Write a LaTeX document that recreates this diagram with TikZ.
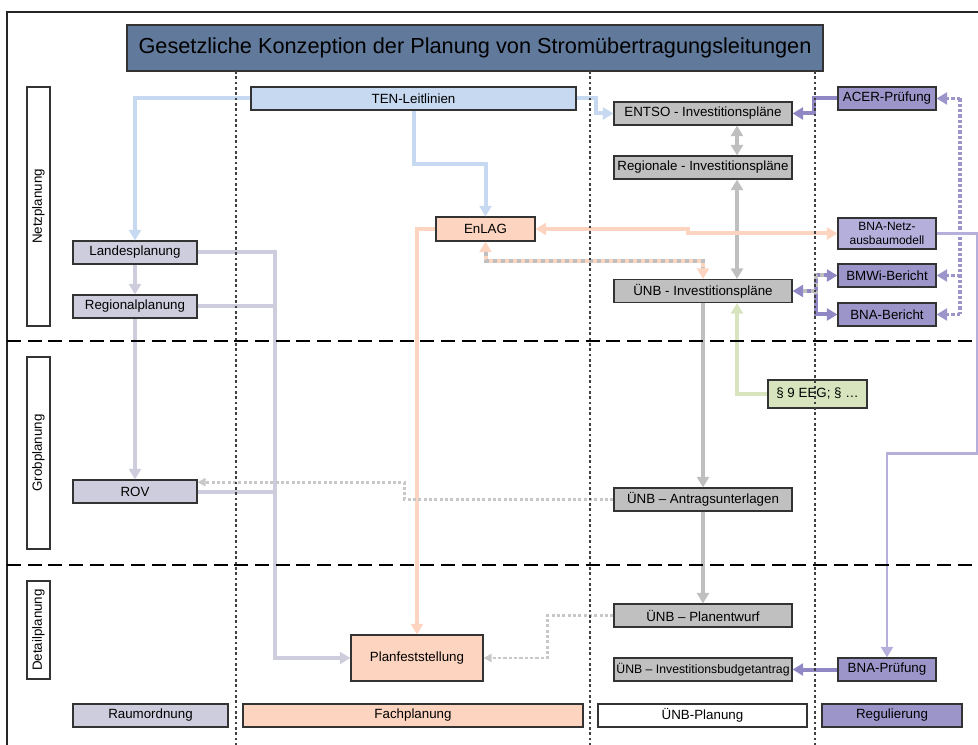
\documentclass[tikz,border=0pt]{standalone}
\usepackage{fontspec}
\setmainfont{Liberation Sans}
\usetikzlibrary{arrows.meta, positioning, calc}
\definecolor{titleblue}{HTML}{61799B}
\definecolor{tenblue}{HTML}{C6D9F0}
\definecolor{lav}{HTML}{CDCDDE}
\definecolor{salmon}{HTML}{FCD4BF}
\definecolor{boxgray}{HTML}{C0C0C0}
\definecolor{linegray}{HTML}{BFBFBF}
\definecolor{dotgray}{HTML}{C8C8C8}
\definecolor{regpurple}{HTML}{9C95CA}
\definecolor{linepurple}{HTML}{8F88C4}
\definecolor{lightpurple}{HTML}{B5AFDC}
\definecolor{eeggreen}{HTML}{D7E4BD}

\begin{document}
\begin{tikzpicture}[
    x=0.75pt, y=-0.75pt,
    >={Triangle[width=9pt,length=8pt]},
    box/.style={rectangle, draw=black!80, line width=0.8pt, align=center, inner sep=1pt, font=\fontsize{10}{11}\selectfont},
    sz/.style 2 args={minimum width=#1*0.75pt, minimum height=#2*0.75pt},
    lane/.style={box, fill=white, rotate=90},
    unbbox/.style={box, fill=boxgray, sz={178}{23}},
    regbox/.style={box, fill=regpurple, sz={98}{23}},
    conn/.style={line width=3pt},
    dotline/.style={line width=2.2pt, dash pattern=on 2.4pt off 1.6pt},
    smalltip/.style={-{Triangle[width=6pt,length=6pt]}},
    stripe/.style={line width=3pt, dash pattern=on 3pt off 3pt, shorten >=8pt, shorten <=8pt}
]
\useasboundingbox (0,0) rectangle (978,745);
\draw[line width=0.8pt, black!85] (7,745) -- (7,12) -- (978,12);

% titel
\node[box, fill=titleblue, sz={696}{46}, font=\fontsize{16.3}{18}\selectfont] (title) at (475,48) {Gesetzliche Konzeption der Planung von Stromübertragungsleitungen};

% ebenen
\node[lane, sz={239}{23}] (netz) at (38.5,206.5) {Netzplanung};
\node[lane, sz={192}{23}] (grob) at (38.5,453) {Grobplanung};
\node[lane, sz={98}{23}] (detail) at (38.5,630) {Detailplanung};

% raumordnung / fachplanung
\node[box, fill=tenblue, sz={325}{23}] (ten) at (413.5,98.5) {TEN-Leitlinien};
\node[box, fill=salmon, sz={99}{24}] (enlag) at (485.5,229) {EnLAG};
\node[box, fill=salmon, sz={132}{46}] (pf) at (417,658) {Planfeststellung};
\node[box, fill=lav, sz={124}{23}] (lp) at (135,252.5) {Landesplanung};
\node[box, fill=lav, sz={124}{23}] (rp) at (135,306.5) {Regionalplanung};
\node[box, fill=lav, sz={124}{23}] (rov) at (135,491.5) {ROV};

% uenb
\node[unbbox] (entso) at (703,113.5) {ENTSO - Investitionspläne};
\node[unbbox] (regio) at (703,167.5) {Regionale - Investitionspläne};
\node[unbbox] (unbinv) at (703,291) {ÜNB - Investitionspläne};
\node[unbbox] (antrag) at (703,499.5) {ÜNB – Antragsunterlagen};
\node[unbbox] (entwurf) at (703,615.5) {ÜNB – Planentwurf};
\node[unbbox, font=\fontsize{9.2}{10}\selectfont] (budget) at (703,669.5) {ÜNB – Investitionsbudgetantrag};
\node[box, fill=eeggreen, sz={99}{28}] (eeg) at (817.5,394) {§ 9 EEG; § …};

% regulierung
\node[regbox] (acer) at (887,98.5) {ACER-Prüfung};
\node[box, fill=lightpurple, sz={98}{31}, font=\fontsize{9}{10}\selectfont] (bnanetz) at (887,233.5) {BNA-Netz-\\ausbaumodell};
\node[regbox] (bmwi) at (887,275.5) {BMWi-Bericht};
\node[regbox] (bnab) at (887,314.5) {BNA-Bericht};
\node[regbox] (bnap) at (887,669.5) {BNA-Prüfung};

% legende
\node[box, fill=lav, sz={155}{23}] (legraum) at (150.5,715.5) {Raumordnung};
\node[box, fill=salmon, sz={340}{23}] (legfach) at (413,715.5) {Fachplanung};
\node[box, fill=white, sz={209}{23}] (legunb) at (702.5,715.5) {ÜNB-Planung};
\node[box, fill=regpurple, sz={140}{23}] (legreg) at (892,715.5) {Regulierung};

\coordinate (rr) at (960,0);

% verbindungen
\draw[conn, tenblue, ->] (ten.west) -| (lp.north);
\draw[conn, tenblue, ->] (ten.south) -- ++(0,53) -| (enlag.north);
\draw[conn, tenblue, ->] (ten.east) -- ++(19,0) |- (entso.west);
\draw[conn, linepurple, ->] (acer.west) -- ++(-23,0) |- (entso.east);
\draw[conn, linegray, <->] ([xshift=25.5pt]entso.south) -- ([xshift=25.5pt]regio.north);
\draw[conn, linegray, <->] ([xshift=25.5pt]regio.south) -- ([xshift=25.5pt]unbinv.north);
\draw[conn, linepurple, <->] (unbinv.east) -- ++(23,0) |- (bmwi.west);
\draw[conn, linepurple, ->] (unbinv.east) ++(23,0) |- (bnab.west);
\draw[stripe, linegray] (unbinv.east) -- ++(23,0) |- (bmwi.west);
\draw[stripe, linegray, shorten <=0pt] (unbinv.east) ++(23,0) -- ++(0,14);
\draw[dotline, regpurple, line width=2.6pt] (acer.east -| rr) -- (bnab.east -| rr);
\draw[dotline, regpurple, line width=2.6pt, ->] (acer.east -| rr) -- (acer.east);
\draw[dotline, regpurple, line width=2.6pt, ->] (bmwi.east -| rr) -- (bmwi.east);
\draw[dotline, regpurple, line width=2.6pt, ->] (bnab.east -| rr) -- (bnab.east);
\draw[line width=2.2pt, lightpurple, ->] (bnanetz.east) -- ++(41,0) -- ++(0,220) -| (bnap.north);
\draw[conn, linepurple, ->] (bnap.west) -- (budget.east);
\draw[conn, salmon, <->] (enlag.east) -- ++(152,0) |- (bnanetz.west);
\draw[conn, salmon, <->] (enlag.south) -- ++(0,19) -| (unbinv.north);
\draw[stripe, linegray] (enlag.south) -- ++(0,19) -| (unbinv.north);
\draw[conn, salmon, ->] (enlag.west) -| (pf.north);
\draw[conn, lav, ->] (lp.south) -- (rp.north);
\draw[conn, lav, ->] (rp.south) -- (rov.north);
\draw[conn, lav, ->] (lp.east) -- ++(77,0) |- (pf.west);
\draw[conn, lav] (rp.east) -- ++(77,0);
\draw[conn, lav] (rov.east) -- ++(77,0);
\draw[conn, linegray, ->] (unbinv.south) -- (antrag.north);
\draw[conn, linegray, ->] (antrag.south) -- (entwurf.north);
\draw[conn, eeggreen, ->] (eeg.west) -| ([xshift=25.5pt]unbinv.south);
\draw[dotline, dotgray, smalltip] (antrag.west) -- ++(-209,0) |- ([yshift=7pt]rov.east);
\draw[dotline, dotgray, smalltip] (entwurf.west) -- ++(-66,0) |- (pf.east);

% trennlinien
\foreach \xx in {236,590,815}
  \draw[line width=0.8pt, black!75, dash pattern=on 2pt off 2pt] (\xx,71) -- (\xx,745);
\foreach \yy in {341,565}
  \draw[line width=2.2pt, black, dash pattern=on 10.5pt off 5pt] (7,\yy) -- (978,\yy);
\end{tikzpicture}
\end{document}
